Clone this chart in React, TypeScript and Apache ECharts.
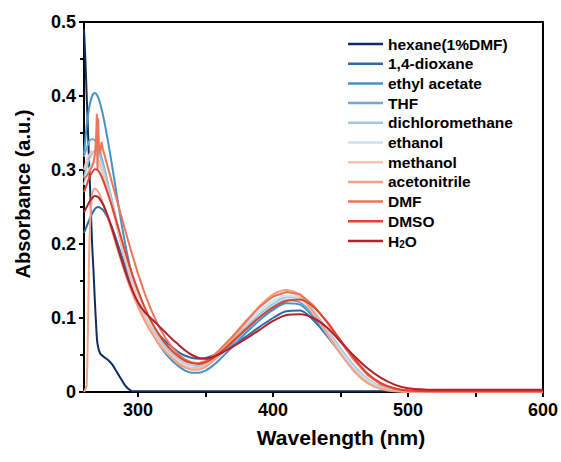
import React, { useEffect, useRef } from "react";
import * as echarts from "echarts";

// Shared wavelength grid (nm)
const wavelengths = [260, 262, 264, 266, 268, 270, 272, 275, 280, 285, 290, 295, 300, 305, 310, 315, 320, 325, 330, 335, 340, 345, 350, 355, 360, 370, 380, 390, 400, 410, 420, 430, 440, 450, 460, 470, 480, 490, 500, 520, 550, 600];

// hexane (1% DMF) – own grid
const hexaneWl = [260, 261, 262, 263, 264, 265, 266, 267, 268, 269, 270, 272, 275, 278, 281, 284, 287, 290, 293, 296, 300, 350, 400, 450, 500, 550, 600];
const hexane = [0.49, 0.45, 0.40, 0.35, 0.30, 0.25, 0.20, 0.165, 0.125, 0.09, 0.065, 0.052, 0.047, 0.043, 0.037, 0.028, 0.019, 0.01, 0.004, 0.001, 0.001, 0.001, 0.001, 0.001, 0.001, 0.001, 0.001];

const dioxane = [0.215, 0.224, 0.233, 0.241, 0.247, 0.250, 0.249, 0.244, 0.226, 0.200, 0.172, 0.146, 0.124, 0.106, 0.091, 0.079, 0.069, 0.061, 0.054, 0.049, 0.046, 0.045, 0.046, 0.049, 0.053, 0.063, 0.075, 0.088, 0.100, 0.109, 0.110, 0.097, 0.076, 0.053, 0.032, 0.016, 0.007, 0.003, 0.001, 0.001, 0.001, 0.001];
const ethylAcetate = [0.322, 0.360, 0.386, 0.400, 0.404, 0.400, 0.390, 0.366, 0.315, 0.258, 0.205, 0.162, 0.128, 0.102, 0.082, 0.066, 0.053, 0.043, 0.035, 0.029, 0.026, 0.026, 0.029, 0.035, 0.043, 0.061, 0.080, 0.097, 0.111, 0.120, 0.118, 0.101, 0.077, 0.052, 0.030, 0.014, 0.005, 0.002, 0.001, 0, 0, 0];
const thf = [0.318, 0.330, 0.339, 0.342, 0.340, 0.334, 0.324, 0.303, 0.263, 0.220, 0.181, 0.148, 0.121, 0.099, 0.081, 0.067, 0.056, 0.047, 0.040, 0.035, 0.032, 0.032, 0.035, 0.041, 0.049, 0.066, 0.084, 0.101, 0.115, 0.124, 0.121, 0.104, 0.080, 0.055, 0.033, 0.016, 0.006, 0.002, 0.001, 0, 0, 0];
const dichloromethane = [0.290, 0.304, 0.315, 0.322, 0.326, 0.324, 0.317, 0.300, 0.265, 0.226, 0.189, 0.156, 0.128, 0.106, 0.088, 0.074, 0.062, 0.052, 0.045, 0.039, 0.036, 0.035, 0.038, 0.044, 0.052, 0.070, 0.088, 0.105, 0.119, 0.128, 0.127, 0.110, 0.085, 0.059, 0.036, 0.018, 0.007, 0.003, 0.001, 0, 0, 0];
const ethanol = [0.280, 0.292, 0.302, 0.308, 0.310, 0.308, 0.302, 0.288, 0.257, 0.221, 0.186, 0.155, 0.129, 0.108, 0.091, 0.077, 0.065, 0.055, 0.047, 0.041, 0.038, 0.038, 0.041, 0.047, 0.055, 0.073, 0.092, 0.109, 0.123, 0.130, 0.127, 0.108, 0.082, 0.056, 0.033, 0.016, 0.006, 0.002, 0.001, 0, 0, 0];
const methanol = [0.300, 0.313, 0.321, 0.325, 0.323, 0.317, 0.308, 0.290, 0.256, 0.219, 0.183, 0.151, 0.124, 0.102, 0.084, 0.070, 0.058, 0.048, 0.041, 0.035, 0.032, 0.032, 0.036, 0.043, 0.052, 0.072, 0.094, 0.114, 0.129, 0.135, 0.128, 0.106, 0.079, 0.052, 0.029, 0.013, 0.005, 0.002, 0.001, 0, 0, 0];
const acetonitrile = [0, 0.010, 0.200, 0.268, 0.275, 0.272, 0.265, 0.250, 0.222, 0.192, 0.163, 0.137, 0.115, 0.096, 0.080, 0.066, 0.055, 0.046, 0.038, 0.033, 0.030, 0.030, 0.034, 0.041, 0.050, 0.071, 0.094, 0.116, 0.132, 0.138, 0.131, 0.108, 0.080, 0.052, 0.028, 0.012, 0.004, 0.001, 0, 0, 0, 0];

// DMF – own grid (noisy spike region)
const dmfWl = [260, 262, 264, 266, 267, 268, 269, 269.5, 270, 270.5, 271, 272, 273, 274, 276, 280, 285, 290, 295, 300, 305, 310, 315, 320, 325, 330, 335, 340, 345, 350, 355, 360, 370, 380, 390, 400, 410, 420, 430, 440, 450, 460, 470, 480, 490, 500, 520, 550, 600];
const dmf = [0.288, 0.292, 0.298, 0.305, 0.31, 0.32, 0.345, 0.376, 0.30, 0.37, 0.335, 0.322, 0.338, 0.328, 0.315, 0.288, 0.255, 0.222, 0.19, 0.16, 0.133, 0.11, 0.09, 0.074, 0.061, 0.051, 0.044, 0.04, 0.039, 0.042, 0.048, 0.056, 0.075, 0.096, 0.115, 0.129, 0.135, 0.132, 0.117, 0.094, 0.068, 0.043, 0.023, 0.01, 0.004, 0.002, 0.001, 0.001, 0.001];

const dmso = [0.270, 0.280, 0.290, 0.297, 0.301, 0.300, 0.295, 0.282, 0.255, 0.224, 0.193, 0.163, 0.137, 0.114, 0.095, 0.079, 0.066, 0.056, 0.048, 0.042, 0.039, 0.038, 0.040, 0.045, 0.052, 0.068, 0.085, 0.101, 0.114, 0.123, 0.125, 0.115, 0.095, 0.070, 0.046, 0.025, 0.012, 0.005, 0.002, 0.001, 0.001, 0.001];
const water = [0.243, 0.250, 0.257, 0.262, 0.265, 0.264, 0.260, 0.250, 0.225, 0.195, 0.166, 0.141, 0.121, 0.108, 0.099, 0.090, 0.081, 0.072, 0.064, 0.056, 0.050, 0.046, 0.045, 0.047, 0.051, 0.061, 0.072, 0.084, 0.096, 0.104, 0.105, 0.100, 0.087, 0.068, 0.049, 0.032, 0.019, 0.010, 0.005, 0.003, 0.003, 0.003];

const seriesNames = ["hexane(1%DMF)", "1,4-dioxane", "ethyl acetate", "THF", "dichloromethane", "ethanol", "methanol", "acetonitrile", "DMF", "DMSO", "H2O"];
const seriesColors = ["#0d2f5e", "#2d6ba6", "#4592c6", "#6faad2", "#9dc9e1", "#cde2f0", "#f7c6b1", "#f4a283", "#ee7558", "#e0432f", "#b3212b"];

const xLabelValues = [300, 400, 500, 600];
const xTickValues = [300, 350, 400, 450, 500, 550, 600];

export default function App() {
  const ref = useRef<HTMLDivElement>(null);
  useEffect(() => {
    const chart = echarts.init(ref.current as HTMLDivElement, null, { renderer: "svg" });
    const pairs = (xs: number[], ys: number[]) => xs.map((x, i) => [x, ys[i]]);
    const dataList = [
      pairs(hexaneWl, hexane),
      pairs(wavelengths, dioxane),
      pairs(wavelengths, ethylAcetate),
      pairs(wavelengths, thf),
      pairs(wavelengths, dichloromethane),
      pairs(wavelengths, ethanol),
      pairs(wavelengths, methanol),
      pairs(wavelengths, acetonitrile),
      pairs(dmfWl, dmf),
      pairs(wavelengths, dmso),
      pairs(wavelengths, water),
    ];
    const font = "'Liberation Sans', Arial, Helvetica, sans-serif";
    chart.setOption({
      animation: false,
      backgroundColor: "#fff",
      grid: {
        left: 84,
        right: 18,
        top: 22,
        bottom: 70,
        show: true,
        borderColor: "#000",
        borderWidth: 2,
        containLabel: false,
      },
      legend: {
        orient: "vertical",
        left: 348,
        top: 36,
        padding: 0,
        icon: "rect",
        itemWidth: 35,
        itemHeight: 2.5,
        itemGap: 3.7,
        data: seriesNames,
        textStyle: {
          color: "#000",
          fontFamily: font,
          fontWeight: "bold",
          fontSize: 15.5,
          rich: {
            n: { fontFamily: font, fontWeight: "bold", fontSize: 15.5, lineHeight: 16, color: "#000" },
            s: { fontFamily: font, fontWeight: "bold", fontSize: 10, lineHeight: 10, verticalAlign: "bottom", color: "#000" },
          },
        },
        formatter: (name: string) => (name === "H2O" ? "{n|H}{s|2}{n|O}" : "{n|" + name + "}"),
      },
      xAxis: {
        type: "value",
        min: 260,
        max: 600,
        position: "bottom",
        axisLine: { show: true, onZero: false, lineStyle: { color: "#000", width: 2 } },
        axisTick: { show: true, inside: false, length: 5, lineStyle: { color: "#000", width: 2 }, customValues: xTickValues },
        axisLabel: { customValues: xLabelValues, margin: 9, color: "#000", fontFamily: font, fontWeight: "bold", fontSize: 18 },
        splitLine: { show: false },
      },
      yAxis: {
        type: "value",
        min: 0,
        max: 0.5,
        interval: 0.1,
        axisLine: { show: true, onZero: false, lineStyle: { color: "#000", width: 2 } },
        axisTick: { show: true, inside: false, length: 5, lineStyle: { color: "#000", width: 2 } },
        minorTick: { show: true, splitNumber: 2, length: 4, lineStyle: { color: "#000", width: 2 } },
        axisLabel: { margin: 8, color: "#000", fontFamily: font, fontWeight: "bold", fontSize: 18 },
        splitLine: { show: false },
      },
      graphic: [
        {
          type: "text",
          x: 341,
          y: 437,
          style: {
            text: "Wavelength (nm)",
            fill: "#000",
            font: "bold 21px " + font,
            textAlign: "center",
            textVerticalAlign: "middle",
          },
        },
        {
          type: "text",
          x: 23,
          y: 194,
          rotation: Math.PI / 2,
          style: {
            text: "Absorbance (a.u.)",
            fill: "#000",
            font: "bold 20px " + font,
            textAlign: "center",
            textVerticalAlign: "middle",
          },
        },
      ],
      series: seriesNames.map((name, i) => ({
        name,
        type: "line",
        data: dataList[i],
        symbol: "none",
        smooth: name === "DMF" ? false : 0.3,
        lineStyle: { color: seriesColors[i], width: 2 },
        itemStyle: { color: seriesColors[i] },
        emphasis: { disabled: true },
      })),
    });
    return () => chart.dispose();
  }, []);
  return (
    <div
      ref={ref}
      style={{ position: "fixed", left: 0, top: 0, width: 561, height: 462, background: "#fff" }}
    />
  );
}
